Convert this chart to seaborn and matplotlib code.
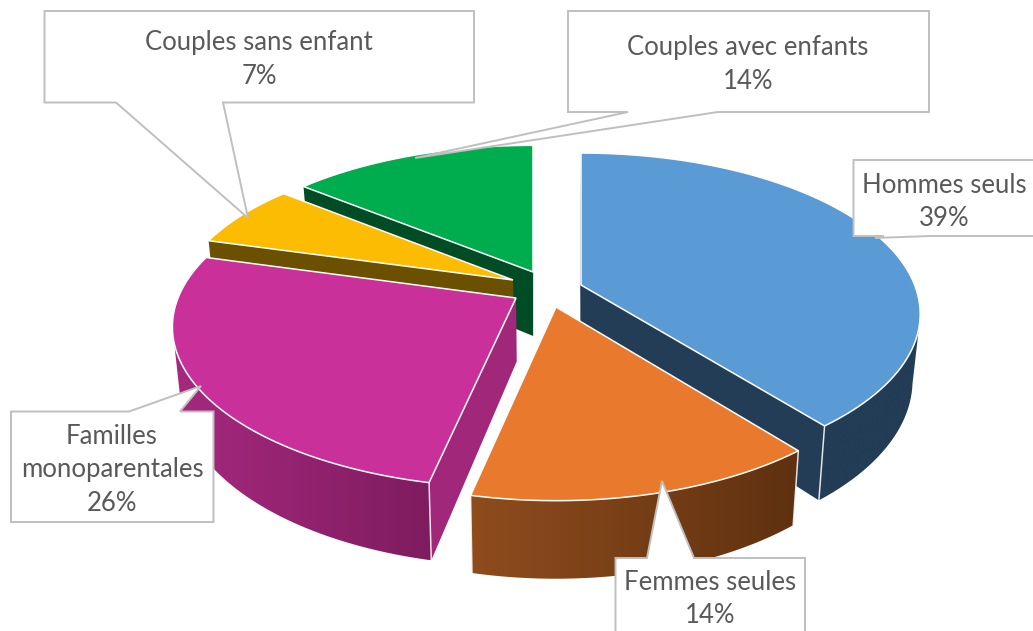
import numpy as np
import seaborn as sns
import matplotlib
matplotlib.use('Agg')
import matplotlib.pyplot as plt
from matplotlib.patches import Polygon

# data, in drawing order of the pie (clockwise from 12 o'clock)
categories = ['Hommes seuls', 'Femmes seules', 'Familles\nmonoparentales',
              'Couples sans enfant', 'Couples avec enfants']
values = [39.2, 14.2, 26.0, 6.6, 14.0]
top_colors = ['#5B9BD5', '#E97A2D', '#C9309A', '#FCBC02', '#00AD4E']
side_light = ['#223D55', '#8F4C1D', '#A6297F', '#6B5000', '#004D25']
side_dark = ['#223D55', '#5F3110', '#7F1C5F', '#6B5000', '#004D25']
face_colors = ['#223D55', '#5F3110', '#A0277A', '#6B5000', '#004D25']

# layout: pie apex of each exploded slice, in pixels
apex_x = [581, 556, 516, 513, 533]
apex_y = [285, 307, 298, 280, 272]
scale_x = [1.005, 1.0, 1.018, 1.0, 1.0]
scale_y = [1.0, 1.02, 1.0, 0.97, 0.96]
R_X, R_Y, PERSP = 332, 155.7, 0.18
DEPTH, BOTTOM_SCALE, VANISH_X = 64, 0.98, 540
paint_order = [4, 3, 2, 0, 1]

# callouts: box left, right, top, bottom, leader base x1, x2, tip x, tip y
boxes = [(853.5, 1040, 160, 236, 884, 930, 875, 238),
         (615.5, 805, 558, 640, 647, 694, 662, 481),
         (11, 213.5, 411.5, 522, 129, 180, 201, 386),
         (44.5, 474, 11, 102.5, 116, 223, 248, 218),
         (568, 929, 11, 112, 628, 718, 415, 158)]
text_x = [944, 710, 112, 259, 748]
text_y = [202, 599, 470, 59.5, 64.5]

sns.set_theme(style='white')
plt.rcParams['font.family'] = ['Lato', 'DejaVu Sans']

fig = plt.figure(figsize=(10.33, 6.31), dpi=100)
ax = fig.add_axes([0, 0, 1, 1])
ax.axis('off')


def project(theta, i):
    u = np.sin(theta)
    v = np.cos(theta)
    den = 1 + PERSP * v
    return apex_x[i] + scale_x[i] * R_X * u / den, apex_y[i] - scale_y[i] * R_Y * v / den, v


def drop(x, y, v):
    # the same point on the underside of the pie
    return VANISH_X + (x - VANISH_X) * BOTTOM_SCALE, y + DEPTH / (1 + PERSP * v)


edges = np.radians(np.cumsum([0] + values) * 3.6)

for z, i in enumerate(paint_order):
    th = np.linspace(edges[i], edges[i + 1], 90)
    x, y, v = project(th, i)
    xb, yb = drop(x, y, v)
    ax0b, ay0b = drop(apex_x[i], apex_y[i], 0)

    # flat faces along the two cut edges
    for k in (0, -1):
        ax.fill([apex_x[i], x[k], xb[k], ax0b], [apex_y[i], y[k], yb[k], ay0b],
                color=face_colors[i], lw=0, zorder=z + 1.1)

    # outer wall, only where it turns towards the viewer
    front = np.where(v < -PERSP)[0]
    if len(front) > 1:
        # light on the left, dark on the right
        cmap = sns.blend_palette([side_light[i], side_dark[i]], as_cmap=True)
        wall = np.c_[np.r_[x[front], xb[front][::-1]], np.r_[y[front], yb[front][::-1]]]
        clip = Polygon(wall, transform=ax.transData)
        im = ax.imshow(np.linspace(0, 1, 256)[None, :], cmap=cmap, aspect='auto',
                       extent=[wall[:, 0].min(), wall[:, 0].max(),
                               wall[:, 1].max(), wall[:, 1].min()], zorder=z + 1.2)
        im.set_clip_path(clip)
        for k in (front[0], front[-1]):
            if k in (0, len(th) - 1):
                ax.plot([x[k], xb[k]], [y[k], yb[k]], color='white', lw=1.1,
                        alpha=0.85, zorder=z + 1.3)

    ax.fill(np.r_[apex_x[i], x], np.r_[apex_y[i], y], fc=top_colors[i],
            ec='white', lw=1.1, joinstyle='miter', zorder=z + 1.4)

for i, b in enumerate(boxes):
    left, right, top, bottom, b1, b2, tx, ty = b
    # the leader starts from the side of the box that faces the pie
    if ty > bottom:
        px = [left, right, right, b2, tx, b1, left]
        py = [top, top, bottom, bottom, ty, bottom, bottom]
    else:
        px = [left, b1, tx, b2, right, right, left]
        py = [top, top, ty, top, top, bottom, bottom]
    ax.fill(px, py, fc='white', ec='#BFBFBF', lw=1.4, zorder=10, joinstyle='miter')
    label = '%s\n%d%%' % (categories[i], round(values[i]))
    ax.text(text_x[i], text_y[i], label, ha='center', va='center', fontsize=18.5,
            color='#595959', linespacing=1.42, zorder=11)

ax.set_xlim(0, 1033)
ax.set_ylim(631, 0)
sns.despine(ax=ax, left=True, bottom=True)
fig.savefig('out.png', dpi=100, facecolor='white')
